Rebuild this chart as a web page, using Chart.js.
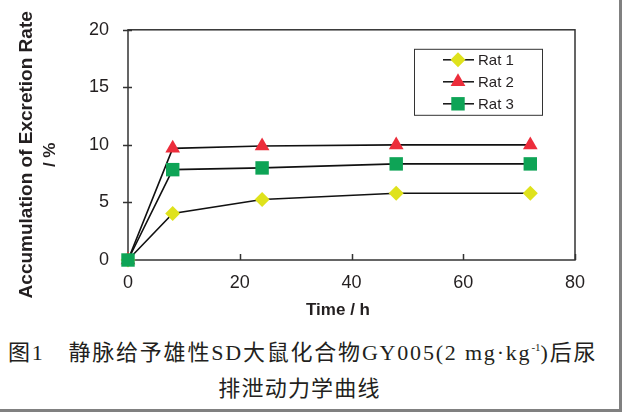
<!DOCTYPE html>
<html>
<head>
<meta charset="utf-8">
<script src="https://cdn.jsdelivr.net/npm/chart.js@4/dist/chart.umd.min.js"></script>
<style>
  html, body { margin: 0; padding: 0; background: #808080; }
  #page {
    position: relative; width: 619px; height: 409px; background: #fff; overflow: hidden;
  }
  #chart { position: absolute; left: 0; top: 0; }
  .cap {
    position: absolute; left: 0; width: 619px; white-space: nowrap; color: #231f20;
    font-family: "Liberation Serif", "Noto Sans CJK SC", serif; font-size: 22px;
  }
  #cap1 { top: 334px; left: 8px; letter-spacing: 1.8px; }
  #cap2 { top: 370px; text-align: center; left: -10px; letter-spacing: 1.2px; }
  sup { font-size: 11px; vertical-align: 9px; letter-spacing: 0; }
</style>
</head>
<body>
<div id="page">
  <canvas id="chart" width="619" height="330"></canvas>
  <div class="cap" id="cap1">图1&emsp;静脉给予雄性SD大鼠化合物GY005(2 mg·kg<sup>-1</sup>)后尿</div>
  <div class="cap" id="cap2">排泄动力学曲线</div>
</div>
<script>
  // ── data ────────────────────────────────────────────────
  const hours = [0, 8, 24, 48, 72];
  const rat1 = [0, 4.05, 5.25, 5.8, 5.8];
  const rat2 = [0, 9.7, 9.9, 10.0, 10.0];
  const rat3 = [0, 7.85, 8.0, 8.35, 8.35];
  const seriesNames = ['Rat 1', 'Rat 2', 'Rat 3'];
  const xTicks = [0, 20, 40, 60, 80];
  const yTicks = [0, 5, 10, 15, 20];
  const xTitle = 'Time / h';
  const yTitle = ['Accumulation of Excretion Rate', '/ %'];

  const FONT = '"Liberation Sans", Arial, sans-serif';

  function pts(ys) {
    return hours.map(function (h, i) { return { x: h, y: ys[i] }; });
  }

  // ── plot frame, inner ticks, axis titles and legend box ───
  const framePlugin = {
    id: 'frame',
    beforeDatasetsDraw: function (chart) {
      const ctx = chart.ctx;
      const a = chart.chartArea;
      const xs = chart.scales.x, ys = chart.scales.y;
      ctx.save();
      ctx.strokeStyle = '#333';
      ctx.lineWidth = 1.5;
      ctx.beginPath();
      yTicks.forEach(function (v) {
        const py = Math.round(ys.getPixelForValue(v)) + 0.5;
        ctx.moveTo(a.left - 5, py);
        ctx.lineTo(a.left + 4, py);
      });
      xTicks.forEach(function (v) {
        const px = Math.round(xs.getPixelForValue(v)) + 0.5;
        ctx.moveTo(px, a.bottom);
        ctx.lineTo(px, a.bottom - 6);
      });
      ctx.stroke();
      ctx.strokeRect(a.left, a.top, a.right - a.left, a.bottom - a.top);

      // axis titles
      ctx.fillStyle = '#231f20';
      ctx.textAlign = 'center';
      ctx.textBaseline = 'middle';
      ctx.font = 'bold 17px ' + FONT;
      ctx.fillText(xTitle, a.left + 210, a.bottom + 50);
      ctx.save();
      ctx.translate(27, a.top + 125);
      ctx.rotate(-Math.PI / 2);
      ctx.font = 'bold 19px ' + FONT;
      ctx.fillText(yTitle[0], 0, 0);
      ctx.font = 'bold 17px ' + FONT;
      ctx.fillText(yTitle[1], 0, 23);
      ctx.restore();
      ctx.restore();
    },
    afterDraw: function (chart) {
      const ctx = chart.ctx;
      const a = chart.chartArea;
      // legend
      const bx = a.right - 161, by = a.top + 19, bw = 128, bh = 66;
      ctx.save();
      ctx.fillStyle = '#fff';
      ctx.fillRect(bx, by, bw, bh);
      ctx.strokeStyle = '#333';
      ctx.lineWidth = 1;
      ctx.strokeRect(bx + 0.5, by + 0.5, bw, bh);
      seriesNames.forEach(function (name, i) {
        const ds = chart.data.datasets[i];
        const cy = by + 11 + i * 22;
        ctx.strokeStyle = '#111';
        ctx.lineWidth = 1.5;
        ctx.beginPath();
        ctx.moveTo(bx + 29, cy);
        ctx.lineTo(bx + 60, cy);
        ctx.stroke();
        ctx.fillStyle = ds.pointBackgroundColor;
        ctx.strokeStyle = ds.pointBorderColor;
        Chart.helpers.drawPoint(ctx, {
          pointStyle: ds.pointStyle, radius: ds.pointRadius, borderWidth: 0
        }, bx + 44, cy);
        ctx.fillStyle = '#231f20';
        ctx.font = '15px ' + FONT;
        ctx.textBaseline = 'middle';
        ctx.textAlign = 'left';
        ctx.fillText(name, bx + 64, cy + 1);
      });
      ctx.restore();
    }
  };

  function series(label, ys, style, color, r, order) {
    return {
      label: label,
      data: pts(ys),
      order: order,
      clip: false,
      borderColor: '#111',
      borderWidth: 1.6,
      pointStyle: style,
      pointRadius: r,
      pointHoverRadius: r,
      pointBackgroundColor: color,
      pointBorderColor: color,
      pointBorderWidth: 0,
      tension: 0
    };
  }

  new Chart(document.getElementById('chart'), {
    type: 'line',
    data: {
      datasets: [
        series(seriesNames[0], rat1, 'rectRot', '#dfe21c', 7.5, 3),
        series(seriesNames[1], rat2, 'triangle', '#ec2d3b', 8.5, 2),
        series(seriesNames[2], rat3, 'rect', '#0ea456', 9.5, 1)
      ]
    },
    options: {
      responsive: false,
      animation: false,
      events: [],
      layout: { padding: { top: 28, right: 44, left: 0, bottom: 8 } },
      plugins: { legend: { display: false }, tooltip: { enabled: false } },
      scales: {
        x: {
          type: 'linear', min: 0, max: 80,
          afterFit: function (s) { s.height = 62; },
          afterBuildTicks: function (s) { s.ticks = xTicks.map(function (v) { return { value: v }; }); },
          grid: { display: false, drawTicks: false },
          border: { display: false },
          ticks: { padding: 12, color: '#231f20', font: { family: FONT, size: 18 } }
        },
        y: {
          min: 0, max: 20,
          afterFit: function (s) { s.width = 128; },
          afterBuildTicks: function (s) { s.ticks = yTicks.map(function (v) { return { value: v }; }); },
          grid: { display: false, drawTicks: false },
          border: { display: false },
          ticks: { padding: 19, color: '#231f20', font: { family: FONT, size: 18 } }
        }
      }
    },
    plugins: [framePlugin]
  });
</script>
</body>
</html>
